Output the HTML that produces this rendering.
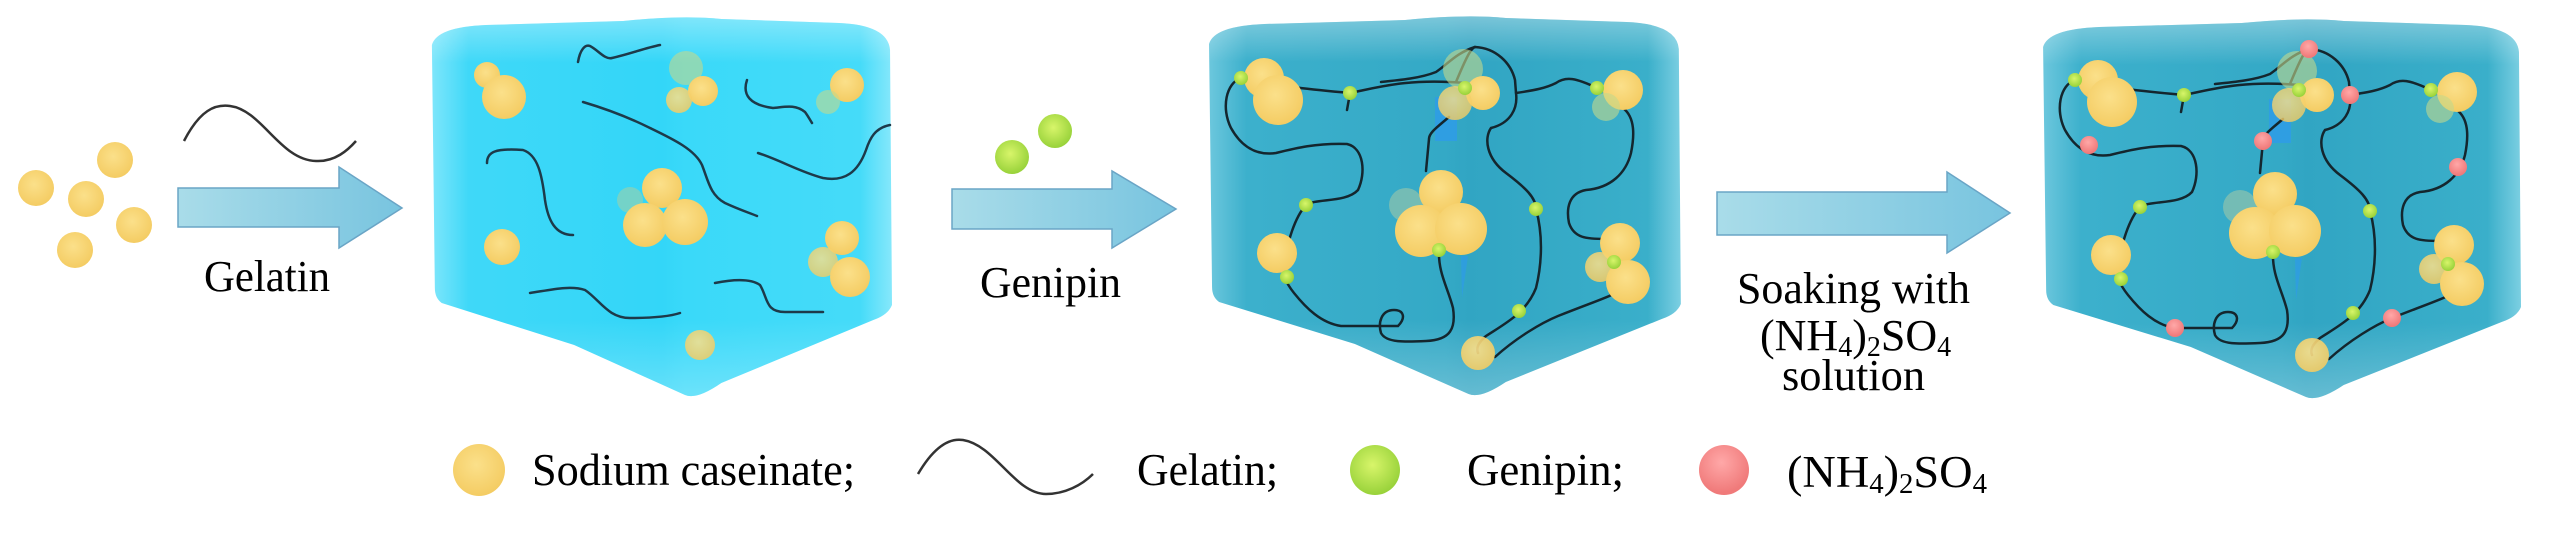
<!DOCTYPE html>
<html><head><meta charset="utf-8"><style>
html,body{margin:0;padding:0;background:#fff;}
svg{display:block;}
text{font-family:"Liberation Serif",serif;fill:#000;}
</style></head><body>
<svg width="2567" height="553" viewBox="0 0 2567 553" xmlns="http://www.w3.org/2000/svg">
<defs>
<linearGradient id="c1" x1="0" y1="0" x2="1" y2="0">
<stop offset="0" stop-color="#7ee6fb"/><stop offset="0.08" stop-color="#3fd8f8"/><stop offset="0.5" stop-color="#33d6f8"/><stop offset="0.55" stop-color="#3ad9f9"/><stop offset="0.93" stop-color="#45dbf9"/><stop offset="1" stop-color="#86e8fb"/>
</linearGradient>
<linearGradient id="c2" x1="0" y1="0" x2="1" y2="0">
<stop offset="0" stop-color="#6cc7dd"/><stop offset="0.08" stop-color="#3cb0cc"/><stop offset="0.5" stop-color="#34a9c6"/><stop offset="0.55" stop-color="#31a5c3"/><stop offset="0.93" stop-color="#3aafca"/><stop offset="1" stop-color="#7ccfe2"/>
</linearGradient>
<linearGradient id="topg" x1="0" y1="0" x2="0" y2="1">
<stop offset="0" stop-color="#ffffff" stop-opacity="0.35"/><stop offset="0.12" stop-color="#ffffff" stop-opacity="0"/><stop offset="0.8" stop-color="#ffffff" stop-opacity="0"/><stop offset="1" stop-color="#ffffff" stop-opacity="0.25"/>
</linearGradient>
<linearGradient id="arr" x1="0" y1="0" x2="1" y2="0">
<stop offset="0" stop-color="#a9dce9"/><stop offset="1" stop-color="#78c4df"/>
</linearGradient>
<radialGradient id="yel" cx="0.45" cy="0.4" r="0.6">
<stop offset="0" stop-color="#fbe08a"/><stop offset="1" stop-color="#f4cc63"/>
</radialGradient>
<radialGradient id="grn" cx="0.45" cy="0.4" r="0.6">
<stop offset="0" stop-color="#d8f56a"/><stop offset="1" stop-color="#98d23a"/>
</radialGradient>
<radialGradient id="red" cx="0.45" cy="0.35" r="0.6">
<stop offset="0" stop-color="#ffa8a8"/><stop offset="1" stop-color="#f07a7a"/>
</radialGradient>
<path id="cube" d="M5,30 Q10,12 60,10 L200,6 Q260,0 300,4 L420,8 Q470,10 472,35 L474,290 Q470,300 455,305 L300,368 Q275,385 263,380 L150,330 L15,288 Q8,283 8,273 Z"/>
</defs>

<g fill="url(#yel)">
<circle cx="115" cy="160" r="18"/><circle cx="36" cy="188" r="18"/><circle cx="86" cy="199" r="18"/><circle cx="134" cy="225" r="18"/><circle cx="75" cy="250" r="18"/>
</g>
<path d="M184,141 C200,110 215,104 230,106 C262,110 280,160 316,161 C335,162 348,150 356,141" fill="none" stroke="#333" stroke-width="2.5"/>

<path d="M178,188 L339,188 L339,167 L402,208 L339,248 L339,227 L178,227 Z" fill="url(#arr)" stroke="#6aa5c6" stroke-width="1.5"/>
<path d="M952,189 L1112,189 L1112,171 L1176,209 L1112,248 L1112,229 L952,229 Z" fill="url(#arr)" stroke="#6aa5c6" stroke-width="1.5"/>
<path d="M1717,192 L1947,192 L1947,172 L2010,213 L1947,253 L1947,235 L1717,235 Z" fill="url(#arr)" stroke="#6aa5c6" stroke-width="1.5"/>

<text x="204" y="291" font-size="44" textLength="126" lengthAdjust="spacingAndGlyphs">Gelatin</text>
<text x="980" y="297" font-size="44" textLength="141" lengthAdjust="spacingAndGlyphs">Genipin</text>
<text x="1737" y="303" font-size="44" textLength="233" lengthAdjust="spacingAndGlyphs">Soaking with</text>
<text x="1760" y="350" font-size="44">(NH<tspan font-size="28" dy="6">4</tspan><tspan dy="-6">)</tspan><tspan font-size="28" dy="6">2</tspan><tspan dy="-6">SO</tspan><tspan font-size="28" dy="6">4</tspan></text>
<text x="1782" y="390" font-size="44" textLength="143" lengthAdjust="spacingAndGlyphs">solution</text>

<circle cx="1012" cy="157" r="17" fill="url(#grn)"/>
<circle cx="1055" cy="131" r="17" fill="url(#grn)"/>

<g transform="translate(427,15) scale(0.981,1)">
<use href="#cube" fill="url(#c1)"/><use href="#cube" fill="url(#topg)"/>
</g>
<g fill="none" stroke="#1d3a4a" stroke-width="2.5" stroke-linecap="round">
<path d="M578,62 C580,50 585,44 590,46 C598,50 605,60 612,58 C630,54 645,48 660,45"/>
<path d="M583,102 C610,110 630,118 650,128 C675,140 695,150 702,165 C708,180 710,195 725,203 C740,210 750,213 757,216"/>
<path d="M487,163 C487,152 495,148 523,150 C538,155 542,175 545,200 C548,220 555,235 573,235"/>
<path d="M747,80 C742,95 750,105 773,108 C785,107 795,104 805,112 C808,116 810,120 812,123"/>
<path d="M758,153 C780,160 800,172 823,178 C845,182 858,172 866,150 C870,138 875,128 890,125"/>
<path d="M530,293 C550,290 570,285 585,290 C600,300 608,318 630,318 C650,318 668,317 680,313"/>
<path d="M715,283 C730,280 750,278 760,285 C768,298 765,312 785,312 L823,312"/>
</g>
<g fill="url(#yel)">
<circle cx="487" cy="75" r="13"/><circle cx="504" cy="97" r="22"/>
<circle cx="686" cy="68" r="17" opacity="0.6" fill="#c3d88c"/><circle cx="703" cy="91" r="15"/><circle cx="679" cy="100" r="13" opacity="0.85"/>
<circle cx="847" cy="85" r="17"/><circle cx="828" cy="102" r="12" opacity="0.6" fill="#c3d88c"/>
<circle cx="630" cy="200" r="13" opacity="0.6" fill="#9fd0a8"/><circle cx="662" cy="188" r="20"/><circle cx="645" cy="225" r="22"/><circle cx="685" cy="222" r="23"/>
<circle cx="502" cy="247" r="18"/>
<circle cx="842" cy="238" r="17"/><circle cx="823" cy="262" r="15" opacity="0.8"/><circle cx="850" cy="277" r="20"/>
<circle cx="700" cy="345" r="15" opacity="0.85"/>
</g>

<g transform="translate(1204,14) scale(1.006,1)">
<use href="#cube" fill="url(#c2)"/><use href="#cube" fill="url(#topg)"/>
</g>
<g transform="translate(2038,17) scale(1.019,1)">
<use href="#cube" fill="url(#c2)"/><use href="#cube" fill="url(#topg)"/>
</g>

<g id="net">
<rect x="2269" y="99" width="22" height="44" fill="#2e9be8" opacity="0.8"/>
<path d="M2295,258 L2302,258 L2296,300 Z" fill="#2e9be8" opacity="0.7"/>
<g fill="none" stroke="#14262e" stroke-width="2.5" stroke-linecap="round">
<path d="M2075,80 C2060,85 2055,110 2065,130 C2075,148 2090,158 2110,155 C2130,150 2150,145 2181,146 C2198,150 2200,175 2192,192 C2180,205 2150,200 2140,207 C2128,220 2122,245 2118,262 C2115,275 2120,285 2128,295 C2140,310 2155,325 2175,328 L2232,328 C2240,320 2238,312 2228,312 C2215,312 2212,325 2215,335 C2220,345 2240,344 2260,343 C2285,342 2290,330 2287,310 C2282,290 2272,275 2273,252"/>
<path d="M2075,80 C2110,88 2150,92 2184,95 C2210,90 2240,80 2299,85"/>
<path d="M2184,95 L2181,112"/>
<path d="M2283,119 C2270,130 2263,135 2263,141 L2260,173"/>
<path d="M2290,84 C2300,60 2305,50 2309,49 C2330,50 2345,65 2349,82 L2350,95 C2352,110 2345,125 2325,130 C2318,140 2320,160 2340,175 C2360,190 2370,200 2370,211 C2378,240 2375,270 2370,290 C2360,315 2340,325 2320,338 C2312,345 2310,350 2312,355"/>
<path d="M2309,49 C2290,55 2282,66 2270,74 C2255,80 2235,82 2215,84"/>
<path d="M2350,95 C2370,92 2380,90 2390,85 C2400,78 2410,80 2431,90"/>
<path d="M2457,110 C2470,120 2468,140 2465,155 C2460,175 2445,190 2420,192 C2403,195 2400,210 2403,225 C2408,240 2420,241 2440,241"/>
<path d="M2450,295 C2440,300 2425,305 2392,318 C2375,325 2350,340 2329,359"/>
</g>
<g fill="url(#yel)">
<circle cx="2098" cy="80" r="20"/><circle cx="2112" cy="102" r="25"/>
<circle cx="2297" cy="71" r="20" opacity="0.6" fill="#c3d88c"/><circle cx="2317" cy="95" r="17"/><circle cx="2289" cy="105" r="17" opacity="0.8"/>
<circle cx="2457" cy="92" r="20"/><circle cx="2440" cy="109" r="14" opacity="0.6" fill="#c3d88c"/>
<circle cx="2240" cy="207" r="17" opacity="0.6" fill="#9fc8a8"/><circle cx="2275" cy="194" r="22"/><circle cx="2255" cy="233" r="26"/><circle cx="2295" cy="231" r="26"/>
<circle cx="2111" cy="255" r="20"/>
<circle cx="2454" cy="245" r="20"/><circle cx="2434" cy="269" r="15" opacity="0.85"/><circle cx="2462" cy="284" r="22"/>
<circle cx="2312" cy="355" r="17" opacity="0.9"/>
</g>
<g fill="url(#grn)">
<circle cx="2075" cy="80" r="7"/><circle cx="2184" cy="95" r="7"/><circle cx="2299" cy="90" r="7"/><circle cx="2431" cy="90" r="7"/><circle cx="2140" cy="207" r="7"/><circle cx="2370" cy="211" r="7"/><circle cx="2273" cy="252" r="7"/><circle cx="2121" cy="279" r="7"/><circle cx="2448" cy="264" r="7"/><circle cx="2353" cy="313" r="7"/>
</g>
</g>
<use href="#net" transform="translate(-834,-2)"/>
<g fill="url(#red)">
<circle cx="2309" cy="49" r="9"/><circle cx="2350" cy="95" r="9"/><circle cx="2089" cy="145" r="9"/><circle cx="2263" cy="141" r="9"/><circle cx="2458" cy="167" r="9"/><circle cx="2175" cy="328" r="9"/><circle cx="2392" cy="318" r="9"/>
</g>

<circle cx="479" cy="470" r="26" fill="url(#yel)"/>
<text x="532" y="485" font-size="45" textLength="323" lengthAdjust="spacingAndGlyphs">Sodium caseinate;</text>
<path d="M918,474 C935,445 950,438 963,440 C995,445 1015,494 1046,494 C1065,494 1082,485 1093,474" fill="none" stroke="#333" stroke-width="2.5"/>
<text x="1137" y="485" font-size="45" textLength="141" lengthAdjust="spacingAndGlyphs">Gelatin;</text>
<circle cx="1375" cy="470" r="25" fill="url(#grn)"/>
<text x="1467" y="485" font-size="45" textLength="157" lengthAdjust="spacingAndGlyphs">Genipin;</text>
<circle cx="1724" cy="470" r="25" fill="url(#red)"/>
<text x="1787" y="487" font-size="45" textLength="200" lengthAdjust="spacingAndGlyphs">(NH<tspan font-size="28" dy="6">4</tspan><tspan dy="-6">)</tspan><tspan font-size="28" dy="6">2</tspan><tspan dy="-6">SO</tspan><tspan font-size="28" dy="6">4</tspan></text>
</svg>
</body></html>
